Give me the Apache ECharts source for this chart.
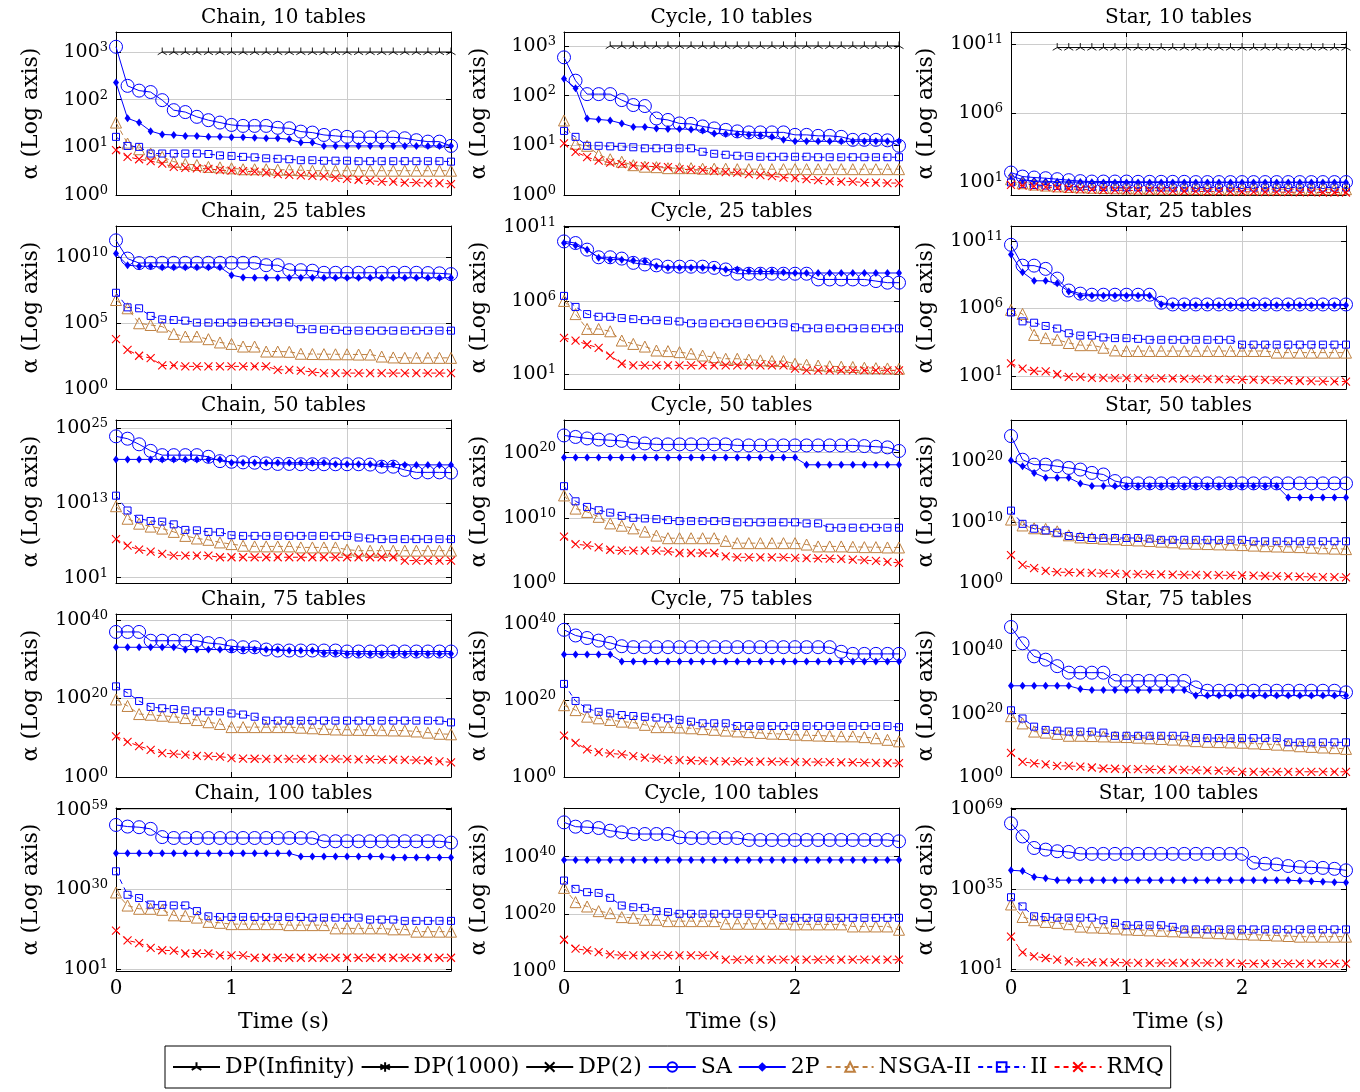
<!DOCTYPE html>
<html>
<head>
<meta charset="utf-8">
<title>alpha over time</title>
<style>
  * { margin: 0; padding: 0; }
  #chart { width: 1360px; height: 1092px; background: #fff; }
</style>
</head>
<body>
<div id="chart"></div>
<script src="https://cdn.jsdelivr.net/npm/echarts@6/dist/echarts.min.js"></script>
<script>
// time in seconds, one sample every 0.1 s
const times = [0, 0.1, 0.2, 0.3, 0.4, 0.5, 0.6, 0.7, 0.8, 0.9,
  1, 1.1, 1.2, 1.3, 1.4, 1.5, 1.6, 1.7, 1.8, 1.9,
  2, 2.1, 2.2, 2.3, 2.4, 2.5, 2.6, 2.7, 2.8, 2.9];

// all values are log10(alpha)
// ---- 10 tables
const chain10DP = [null, null, null, null, 3, 3, 3, 3, 3, 3,
  3, 3, 3, 3, 3, 3, 3, 3, 3, 3,
  3, 3, 3, 3, 3, 3, 3, 3, 3, 3];
const chain10SA = [3.11, 2.29, 2.19, 2.16, 1.99, 1.78, 1.74, 1.64, 1.57, 1.52,
  1.47, 1.45, 1.45, 1.45, 1.41, 1.40, 1.33, 1.31, 1.26, 1.24,
  1.22, 1.21, 1.21, 1.21, 1.21, 1.19, 1.15, 1.12, 1.12, 1.03];
const chain10P2 = [2.36, 1.61, 1.52, 1.34, 1.27, 1.26, 1.24, 1.24, 1.22, 1.22,
  1.21, 1.21, 1.20, 1.19, 1.19, 1.17, 1.10, 1.10, 1.03, 1.03,
  1.03, 1.03, 1.03, 1.03, 1.03, 1.03, 1.03, 1.03, 1.03, 1.03];
const chain10NSGA = [1.52, 1.08, 0.96, 0.87, 0.80, 0.70, 0.65, 0.63, 0.59, 0.58,
  0.56, 0.54, 0.54, 0.54, 0.53, 0.53, 0.52, 0.51, 0.51, 0.51,
  0.51, 0.51, 0.51, 0.51, 0.51, 0.51, 0.51, 0.51, 0.51, 0.51];
const chain10II = [1.22, 1.03, 1.01, 0.87, 0.87, 0.87, 0.87, 0.87, 0.86, 0.83,
  0.82, 0.80, 0.79, 0.77, 0.76, 0.75, 0.73, 0.73, 0.72, 0.72,
  0.72, 0.71, 0.71, 0.71, 0.71, 0.71, 0.71, 0.71, 0.71, 0.70];
const chain10RMQ = [0.94, 0.80, 0.75, 0.71, 0.66, 0.59, 0.57, 0.56, 0.55, 0.52,
  0.51, 0.50, 0.49, 0.47, 0.44, 0.42, 0.41, 0.40, 0.39, 0.36,
  0.34, 0.32, 0.30, 0.28, 0.28, 0.26, 0.26, 0.25, 0.25, 0.23];

const cycle10DP = [null, null, null, null, 3, 3, 3, 3, 3, 3,
  3, 3, 3, 3, 3, 3, 3, 3, 3, 3,
  3, 3, 3, 3, 3, 3, 3, 3, 3, 3];
const cycle10SA = [2.77, 2.30, 2.03, 2.03, 2.03, 1.91, 1.81, 1.79, 1.54, 1.51,
  1.44, 1.43, 1.38, 1.34, 1.31, 1.28, 1.26, 1.26, 1.26, 1.26,
  1.21, 1.21, 1.19, 1.19, 1.17, 1.11, 1.11, 1.11, 1.10, 0.99];
const cycle10P2 = [2.34, 2.15, 1.54, 1.52, 1.50, 1.44, 1.37, 1.37, 1.34, 1.33,
  1.33, 1.32, 1.30, 1.24, 1.23, 1.22, 1.21, 1.20, 1.17, 1.11,
  1.08, 1.08, 1.08, 1.08, 1.08, 1.08, 1.08, 1.08, 1.08, 1.08];
const cycle10NSGA = [1.50, 1.03, 0.99, 0.81, 0.72, 0.67, 0.60, 0.57, 0.56, 0.54,
  0.54, 0.54, 0.53, 0.53, 0.53, 0.52, 0.52, 0.52, 0.52, 0.52,
  0.52, 0.52, 0.52, 0.52, 0.52, 0.52, 0.52, 0.52, 0.52, 0.52];
const cycle10II = [1.29, 1.17, 0.99, 0.99, 0.98, 0.97, 0.96, 0.94, 0.94, 0.94,
  0.94, 0.94, 0.87, 0.83, 0.81, 0.79, 0.78, 0.77, 0.77, 0.77,
  0.77, 0.77, 0.76, 0.76, 0.76, 0.76, 0.76, 0.76, 0.76, 0.76];
const cycle10RMQ = [1.04, 0.87, 0.76, 0.69, 0.65, 0.62, 0.59, 0.58, 0.57, 0.56,
  0.52, 0.51, 0.50, 0.48, 0.46, 0.45, 0.42, 0.40, 0.38, 0.35,
  0.34, 0.32, 0.30, 0.28, 0.27, 0.27, 0.25, 0.25, 0.24, 0.24];

const star10DP = [null, null, null, null, 10.73, 10.73, 10.73, 10.73, 10.73, 10.73,
  10.73, 10.73, 10.73, 10.73, 10.73, 10.73, 10.73, 10.73, 10.73, 10.73,
  10.73, 10.73, 10.73, 10.73, 10.73, 10.73, 10.73, 10.73, 10.73, 10.73];
const star10SA = [1.72, 1.43, 1.36, 1.31, 1.24, 1.17, 1.10, 1.07, 1.07, 1.07,
  1.07, 1.05, 1.05, 1.05, 1.05, 1.05, 1.03, 1.03, 1.03, 1.03,
  1.03, 1.03, 1.03, 1.03, 1.03, 1.03, 1.03, 1.03, 1.03, 1.03];
const star10P2 = [1.48, 1.20, 1.12, 1.08, 1.05, 1.04, 1.03, 1.02, 1.01, 1.00,
  1.00, 1.00, 1.00, 1.00, 1.00, 1.00, 1.00, 1.00, 1.00, 1.00,
  1.00, 1.00, 1.00, 1.00, 1.00, 1.00, 1.00, 1.00, 1.00, 1.00];
const star10NSGA = [1.24, 0.95, 0.85, 0.78, 0.72, 0.68, 0.65, 0.62, 0.60, 0.58,
  0.57, 0.56, 0.55, 0.55, 0.54, 0.54, 0.53, 0.53, 0.53, 0.52,
  0.52, 0.52, 0.52, 0.52, 0.52, 0.52, 0.52, 0.52, 0.52, 0.52];
const star10II = [1.00, 0.90, 0.82, 0.78, 0.75, 0.72, 0.70, 0.68, 0.67, 0.66,
  0.65, 0.65, 0.64, 0.64, 0.64, 0.64, 0.64, 0.64, 0.64, 0.64,
  0.64, 0.64, 0.64, 0.64, 0.64, 0.64, 0.64, 0.64, 0.64, 0.64];
const star10RMQ = [0.83, 0.78, 0.72, 0.66, 0.60, 0.55, 0.50, 0.48, 0.46, 0.45,
  0.43, 0.42, 0.41, 0.40, 0.38, 0.37, 0.36, 0.35, 0.34, 0.33,
  0.33, 0.32, 0.31, 0.30, 0.30, 0.29, 0.29, 0.28, 0.28, 0.28];

// ---- 25 tables
const chain25SA = [11.31, 9.92, 9.58, 9.6, 9.6, 9.6, 9.6, 9.6, 9.6, 9.6,
  9.6, 9.6, 9.6, 9.42, 9.42, 9.04, 9.04, 9.0, 8.84, 8.84,
  8.84, 8.84, 8.84, 8.84, 8.84, 8.84, 8.84, 8.82, 8.8, 8.74];
const chain25P2 = [10.3, 9.42, 9.34, 9.34, 9.27, 9.27, 9.27, 9.27, 9.27, 9.27,
  8.66, 8.48, 8.46, 8.46, 8.46, 8.46, 8.46, 8.46, 8.46, 8.46,
  8.46, 8.46, 8.46, 8.46, 8.46, 8.46, 8.46, 8.46, 8.46, 8.46];
const chain25NSGA = [6.77, 6.14, 5.0, 4.87, 4.75, 4.19, 3.99, 3.99, 3.79, 3.54,
  3.43, 3.23, 3.23, 2.85, 2.85, 2.83, 2.68, 2.66, 2.65, 2.64,
  2.64, 2.62, 2.62, 2.47, 2.4, 2.37, 2.37, 2.37, 2.37, 2.37];
const chain25II = [7.32, 6.21, 6.14, 5.56, 5.30, 5.25, 5.2, 5.05, 5.05, 5.05,
  5.05, 5.05, 5.05, 5.05, 5.05, 5.05, 4.55, 4.55, 4.52, 4.5,
  4.44, 4.44, 4.44, 4.44, 4.44, 4.44, 4.44, 4.44, 4.44, 4.44];
const chain25RMQ = [3.79, 2.98, 2.53, 2.35, 1.79, 1.79, 1.72, 1.72, 1.72, 1.72,
  1.72, 1.72, 1.72, 1.72, 1.46, 1.46, 1.40, 1.29, 1.21, 1.21,
  1.21, 1.21, 1.21, 1.21, 1.21, 1.21, 1.21, 1.21, 1.21, 1.21];

const cycle25SA = [10.05, 9.94, 9.49, 8.97, 8.97, 8.88, 8.59, 8.48, 8.42, 8.33,
  8.33, 8.33, 8.33, 8.25, 8.14, 7.85, 7.85, 7.85, 7.85, 7.85,
  7.85, 7.85, 7.46, 7.46, 7.46, 7.46, 7.46, 7.35, 7.24, 7.24];
const cycle25P2 = [9.94, 9.78, 9.49, 8.93, 8.81, 8.81, 8.75, 8.70, 8.36, 8.25,
  8.25, 8.25, 8.25, 8.25, 8.14, 8.14, 8.03, 8.0, 8.0, 7.95,
  7.9, 7.9, 7.9, 7.9, 7.9, 7.9, 7.9, 7.9, 7.9, 7.9];
const cycle25NSGA = [6.0, 5.1, 4.09, 4.09, 3.93, 3.3, 3.07, 2.89, 2.62, 2.58,
  2.51, 2.4, 2.28, 2.17, 2.06, 2.06, 2.0, 1.95, 1.9, 1.9,
  1.72, 1.65, 1.6, 1.55, 1.52, 1.5, 1.45, 1.42, 1.4, 1.38];
const cycle25II = [6.34, 5.59, 5.1, 4.92, 4.92, 4.83, 4.76, 4.69, 4.69, 4.65,
  4.6, 4.47, 4.47, 4.47, 4.47, 4.47, 4.47, 4.47, 4.47, 4.47,
  4.2, 4.13, 4.13, 4.13, 4.13, 4.13, 4.13, 4.13, 4.13, 4.13];
const cycle25RMQ = [3.48, 3.3, 3.03, 2.8, 2.28, 1.72, 1.61, 1.61, 1.61, 1.61,
  1.61, 1.61, 1.61, 1.61, 1.61, 1.61, 1.61, 1.61, 1.61, 1.61,
  1.38, 1.27, 1.27, 1.27, 1.27, 1.27, 1.27, 1.27, 1.27, 1.27];

const star25SA = [10.71, 9.17, 9.17, 8.93, 8.21, 7.33, 7.1, 7.02, 7.02, 7.02,
  7.02, 7.02, 7.02, 6.43, 6.3, 6.3, 6.3, 6.3, 6.3, 6.3,
  6.3, 6.3, 6.3, 6.3, 6.3, 6.3, 6.3, 6.3, 6.3, 6.3];
const star25P2 = [10.0, 8.69, 8.05, 8.05, 7.86, 7.26, 6.95, 6.95, 6.95, 6.95,
  6.95, 6.95, 6.95, 6.31, 6.24, 6.24, 6.24, 6.24, 6.24, 6.24,
  6.24, 6.24, 6.24, 6.24, 6.24, 6.24, 6.24, 6.24, 6.24, 6.24];
const star25NSGA = [5.9, 5.6, 4.05, 3.81, 3.69, 3.45, 3.29, 3.29, 3.1, 2.9,
  2.86, 2.86, 2.86, 2.86, 2.86, 2.86, 2.86, 2.86, 2.86, 2.86,
  2.86, 2.86, 2.86, 2.74, 2.74, 2.74, 2.74, 2.74, 2.74, 2.74];
const star25II = [5.71, 5.05, 4.95, 4.71, 4.52, 4.17, 4.0, 4.0, 3.86, 3.81,
  3.81, 3.76, 3.69, 3.69, 3.69, 3.69, 3.69, 3.69, 3.69, 3.69,
  3.33, 3.33, 3.33, 3.33, 3.33, 3.33, 3.33, 3.33, 3.33, 3.33];
const star25RMQ = [1.95, 1.55, 1.38, 1.35, 1.14, 0.95, 0.95, 0.88, 0.87, 0.86,
  0.85, 0.85, 0.84, 0.84, 0.83, 0.82, 0.8, 0.8, 0.78, 0.76,
  0.75, 0.74, 0.72, 0.7, 0.68, 0.66, 0.64, 0.62, 0.61, 0.6];

// ---- 50 tables
const chain50SA = [23.68, 23.3, 22.4, 21.35, 20.66, 20.66, 20.66, 20.66, 20.4, 19.7,
  19.6, 19.5, 19.45, 19.34, 19.25, 19.25, 19.2, 19.2, 19.2, 19.2,
  19.2, 19.2, 19.15, 18.81, 18.81, 18.29, 17.9, 17.9, 17.9, 17.86];
const chain50P2 = [19.98, 19.98, 19.98, 19.98, 19.98, 19.98, 19.98, 19.98, 19.98, 19.98,
  19.45, 19.45, 19.45, 19.45, 19.45, 19.45, 19.45, 19.45, 19.45, 19.2,
  19.2, 19.2, 19.2, 19.2, 19.2, 19.1, 19.1, 19.1, 19.1, 19.1];
const chain50NSGA = [12.47, 10.46, 9.67, 9.2, 8.88, 8.35, 7.71, 7.29, 7.08, 6.66,
  6.39, 6.13, 6.02, 6.02, 6.02, 6.02, 5.86, 5.86, 5.86, 5.86,
  5.5, 5.34, 5.34, 5.34, 5.34, 5.34, 5.34, 5.34, 5.34, 5.34];
const chain50II = [14.16, 11.78, 10.46, 10.1, 10.0, 9.56, 8.67, 8.6, 8.35, 8.3,
  7.82, 7.71, 7.71, 7.71, 7.71, 7.71, 7.71, 7.71, 7.71, 7.71,
  7.71, 7.45, 7.3, 7.19, 7.19, 7.19, 7.19, 7.19, 7.19, 7.19];
const chain50RMQ = [7.19, 6.13, 5.5, 5.18, 4.81, 4.54, 4.54, 4.54, 4.54, 4.28,
  4.28, 4.28, 4.28, 4.28, 4.28, 4.28, 4.28, 4.28, 4.28, 4.28,
  4.28, 4.28, 4.28, 4.28, 4.28, 3.75, 3.75, 3.75, 3.75, 3.75];

const cycle50SA = [22.63, 22.4, 22.17, 22.0, 21.9, 21.8, 21.5, 21.4, 21.26, 21.26,
  21.26, 21.26, 21.26, 21.26, 21.26, 21.1, 21.1, 21.1, 21.1, 21.1,
  21.1, 21.1, 21.1, 21.1, 21.1, 21.1, 21.0, 20.9, 20.8, 20.25];
const cycle50P2 = [19.24, 19.24, 19.24, 19.24, 19.24, 19.24, 19.24, 19.24, 19.24, 19.24,
  19.24, 19.24, 19.24, 19.24, 19.24, 19.24, 19.24, 19.24, 19.24, 19.24,
  19.24, 18.13, 18.13, 18.13, 18.13, 18.13, 18.13, 18.13, 18.13, 18.13];
const cycle50NSGA = [13.43, 11.41, 10.9, 10.15, 9.14, 8.79, 8.38, 7.88, 7.27, 6.87,
  6.87, 6.87, 6.87, 6.87, 6.46, 6.11, 6.11, 6.11, 6.11, 6.11,
  6.11, 5.9, 5.61, 5.61, 5.61, 5.55, 5.5, 5.5, 5.45, 5.45];
const cycle50II = [14.85, 12.53, 11.67, 11.16, 10.8, 10.3, 10.0, 9.9, 9.8, 9.65,
  9.5, 9.5, 9.5, 9.5, 9.5, 9.3, 9.3, 9.3, 9.3, 9.3,
  9.3, 9.14, 9.14, 8.48, 8.48, 8.48, 8.48, 8.48, 8.48, 8.48];
const cycle50RMQ = [7.12, 5.96, 5.76, 5.45, 5.1, 4.95, 4.95, 4.95, 4.95, 4.85,
  4.6, 4.6, 4.6, 4.6, 4.1, 3.94, 3.94, 3.94, 3.94, 3.94,
  3.85, 3.8, 3.78, 3.74, 3.7, 3.6, 3.5, 3.4, 3.25, 3.08];

const star50SA = [24.16, 20.27, 19.46, 19.46, 19.19, 18.92, 18.65, 18.1, 17.84, 16.76,
  16.38, 16.38, 16.38, 16.38, 16.38, 16.38, 16.38, 16.38, 16.38, 16.38,
  16.38, 16.38, 16.38, 16.38, 16.38, 16.38, 16.38, 16.38, 16.38, 16.38];
const star50P2 = [20.16, 19.2, 18.1, 17.3, 17.3, 17.3, 16.38, 15.95, 15.95, 15.95,
  15.95, 15.95, 15.95, 15.95, 15.95, 15.95, 15.95, 15.95, 15.95, 15.95,
  15.95, 15.95, 15.95, 15.95, 14.05, 14.05, 14.05, 14.05, 14.05, 14.05];
const star50NSGA = [10.43, 9.46, 9.0, 8.9, 8.5, 7.84, 7.5, 7.4, 7.3, 7.2,
  7.08, 7.0, 6.9, 6.8, 6.7, 6.5, 6.45, 6.4, 6.35, 6.3,
  6.23, 6.15, 6.05, 6.0, 5.95, 5.9, 5.8, 5.7, 5.65, 5.57];
const star50II = [11.9, 9.73, 8.92, 8.65, 8.27, 7.73, 7.57, 7.4, 7.4, 7.4,
  7.4, 7.4, 7.3, 7.1, 7.1, 7.1, 7.1, 7.1, 7.1, 7.1,
  7.1, 6.86, 6.86, 6.86, 6.86, 6.86, 6.86, 6.86, 6.86, 6.86];
const star50RMQ = [4.59, 2.97, 2.43, 2.0, 1.78, 1.75, 1.7, 1.65, 1.6, 1.55,
  1.46, 1.45, 1.42, 1.4, 1.38, 1.35, 1.33, 1.3, 1.28, 1.26,
  1.24, 1.2, 1.15, 1.12, 1.08, 1.05, 1.0, 0.98, 0.95, 0.92];

// ---- 75 tables
const chain75SA = [36.93, 36.93, 36.93, 34.69, 34.69, 34.69, 34.69, 34.69, 34.1, 33.86,
  33.28, 33.03, 33.03, 32.45, 32.2, 32.2, 32.2, 32.2, 32.2, 32.2,
  31.95, 31.95, 31.95, 31.95, 31.95, 31.95, 31.95, 31.95, 31.95, 31.95];
const chain75P2 = [33.03, 33.03, 33.03, 33.03, 33.03, 33.03, 32.45, 32.45, 32.45, 32.45,
  32.45, 32.45, 32.45, 32.45, 32.45, 32.2, 32.2, 32.2, 31.6, 31.6,
  31.37, 31.37, 31.37, 31.37, 31.37, 31.37, 31.37, 31.37, 31.37, 31.37];
const chain75NSGA = [19.75, 18.09, 16.02, 15.85, 15.6, 15.35, 15.0, 14.5, 13.94, 13.5,
  12.7, 12.7, 12.7, 12.7, 12.7, 12.7, 12.55, 12.4, 12.2, 12.1,
  12.03, 12.0, 11.95, 11.9, 11.85, 11.8, 11.6, 11.3, 11.0, 10.87];
const chain75II = [23.07, 21.41, 19.34, 17.84, 17.5, 17.3, 17.0, 16.7, 16.7, 16.7,
  16.18, 15.9, 15.35, 14.36, 14.36, 14.36, 14.36, 14.36, 14.36, 14.36,
  14.36, 14.36, 14.36, 14.36, 14.36, 14.36, 14.36, 14.36, 14.36, 13.9];
const chain75RMQ = [10.37, 8.96, 7.88, 6.89, 6.06, 5.9, 5.7, 5.4, 5.3, 5.2,
  4.81, 4.7, 4.65, 4.6, 4.6, 4.6, 4.6, 4.6, 4.6, 4.6,
  4.55, 4.5, 4.5, 4.45, 4.4, 4.35, 4.3, 4.2, 4.0, 3.73];

const cycle75SA = [38.38, 36.9, 36.24, 35.56, 34.96, 34.1, 33.85, 33.85, 33.85, 33.85,
  33.85, 33.85, 33.85, 33.85, 33.85, 33.85, 33.85, 33.85, 33.85, 33.85,
  33.85, 33.85, 33.85, 33.85, 32.65, 32.1, 32.1, 32.1, 32.1, 32.1];
const cycle75P2 = [31.97, 31.97, 31.97, 31.97, 31.97, 30.1, 30.1, 30.1, 30.1, 30.1,
  30.1, 30.1, 30.1, 30.1, 30.1, 30.1, 30.1, 30.1, 30.1, 30.1,
  30.1, 30.1, 30.1, 30.1, 30.1, 30.1, 30.1, 30.1, 30.1, 30.1];
const cycle75NSGA = [18.72, 17.44, 15.73, 15.3, 14.87, 14.44, 14.2, 13.6, 13.0, 13.0,
  12.9, 12.7, 12.48, 12.3, 12.1, 11.88, 11.7, 11.5, 11.3, 11.2,
  11.03, 10.9, 10.8, 10.7, 10.6, 10.6, 10.4, 10.1, 9.7, 9.3];
const cycle75II = [24.27, 19.83, 17.86, 17.0, 16.6, 16.15, 15.9, 15.7, 15.5, 15.3,
  14.9, 14.44, 14.0, 14.0, 14.0, 13.3, 13.3, 13.3, 13.3, 13.3,
  13.3, 13.3, 13.3, 13.3, 13.3, 13.3, 13.3, 13.3, 13.3, 13.0];
const cycle75RMQ = [10.77, 8.9, 7.18, 6.5, 6.15, 5.9, 5.47, 5.04, 4.8, 4.44,
  4.4, 4.3, 4.2, 4.15, 4.1, 4.05, 4.0, 4.0, 4.0, 4.0,
  3.95, 3.9, 3.9, 3.85, 3.8, 3.8, 3.75, 3.7, 3.65, 3.6];

const star75SA = [47.3, 42.16, 38.04, 37.0, 34.95, 32.9, 32.9, 32.9, 32.9, 30.3,
  30.3, 30.3, 30.3, 30.3, 30.3, 30.3, 28.25, 27.2, 27.2, 27.2,
  27.2, 27.2, 27.2, 27.2, 27.2, 27.2, 27.2, 27.2, 27.2, 26.7];
const star75P2 = [28.76, 28.76, 28.76, 28.76, 28.76, 28.76, 27.73, 27.4, 27.4, 27.4,
  27.4, 27.4, 27.4, 27.4, 27.4, 27.4, 25.67, 25.67, 25.67, 25.67,
  25.67, 25.67, 25.67, 25.67, 25.67, 25.67, 25.67, 25.67, 25.67, 25.67];
const star75NSGA = [19.18, 16.9, 14.33, 14.0, 13.6, 13.0, 13.0, 12.9, 12.8, 12.7,
  12.6, 12.4, 12.2, 12.0, 11.8, 11.55, 11.3, 11.1, 11.0, 10.9,
  10.8, 10.6, 10.4, 10.2, 10.0, 9.7, 9.5, 9.3, 9.1, 8.87];
const star75II = [21.03, 18.45, 15.88, 14.85, 14.6, 14.33, 14.33, 14.33, 14.0, 13.0,
  13.0, 13.0, 13.0, 13.0, 13.0, 13.0, 12.27, 12.27, 12.27, 12.27,
  12.27, 12.27, 12.27, 12.27, 10.93, 10.93, 10.93, 10.93, 10.93, 10.93];
const star75RMQ = [7.63, 4.74, 4.33, 4.0, 3.5, 3.5, 3.3, 3.0, 2.68, 2.6,
  2.5, 2.45, 2.4, 2.35, 2.3, 2.27, 2.2, 2.1, 2.0, 1.9,
  1.65, 1.65, 1.65, 1.65, 1.65, 1.65, 1.65, 1.65, 1.65, 1.65];

// ---- 100 tables
const chain100SA = [53.42, 52.83, 52.6, 52.0, 49.0, 48.67, 48.67, 48.67, 48.67, 48.67,
  48.67, 48.67, 48.67, 48.67, 48.67, 48.67, 48.67, 48.67, 47.48, 47.48,
  47.48, 47.48, 47.48, 47.48, 47.48, 47.48, 47.48, 47.48, 47.48, 47.0];
const chain100P2 = [43.08, 43.08, 43.08, 43.08, 43.08, 43.08, 43.08, 43.08, 43.08, 43.08,
  43.08, 43.08, 43.08, 43.08, 43.08, 43.08, 41.9, 41.9, 41.9, 41.9,
  41.9, 41.9, 41.9, 41.9, 41.53, 41.53, 41.53, 41.53, 41.53, 41.53];
const chain100NSGA = [28.81, 24.05, 22.87, 22.87, 22.5, 20.49, 20.3, 19.66, 18.1, 17.75,
  17.28, 17.28, 17.28, 17.28, 17.28, 16.92, 16.92, 16.92, 16.92, 15.73,
  15.73, 15.73, 15.73, 15.73, 15.38, 15.38, 14.54, 14.54, 14.54, 14.54];
const chain100II = [36.54, 27.98, 26.79, 24.41, 24.3, 24.1, 24.1, 22.03, 20.13, 19.9,
  19.9, 19.9, 19.9, 19.9, 19.9, 19.9, 19.9, 19.66, 19.66, 19.66,
  19.66, 19.66, 18.94, 18.94, 18.94, 18.47, 18.47, 18.47, 18.47, 18.47];
const chain100RMQ = [14.9, 11.33, 10.38, 8.6, 7.76, 7.6, 6.58, 6.58, 6.58, 5.86,
  5.86, 5.86, 5.03, 5.03, 5.03, 5.03, 5.03, 5.03, 5.03, 5.03,
  5.03, 5.03, 5.03, 5.03, 5.03, 5.03, 5.03, 5.03, 5.03, 5.03];

const cycle100SA = [51.98, 50.47, 50.3, 50.0, 49.07, 48.49, 47.9, 47.9, 47.9, 47.9,
  46.74, 46.5, 46.5, 46.5, 46.5, 46.5, 45.81, 45.81, 45.81, 45.81,
  45.81, 45.81, 45.81, 45.81, 45.81, 45.81, 45.81, 45.81, 45.81, 45.35];
const cycle100P2 = [38.84, 38.84, 38.84, 38.84, 38.84, 38.84, 38.84, 38.84, 38.84, 38.84,
  38.84, 38.84, 38.84, 38.84, 38.84, 38.84, 38.84, 38.84, 38.84, 38.84,
  38.84, 38.84, 38.84, 38.84, 38.84, 38.84, 38.84, 38.84, 38.84, 38.84];
const cycle100NSGA = [29.07, 24.07, 22.56, 20.93, 20.23, 18.84, 18.6, 17.9, 17.9, 17.44,
  17.44, 17.44, 17.44, 17.44, 16.51, 16.51, 16.51, 16.51, 16.51, 16.51,
  16.3, 16.3, 16.3, 16.3, 16.3, 15.58, 15.58, 15.58, 15.58, 14.42];
const cycle100II = [31.63, 28.72, 27.56, 27.3, 25.58, 22.9, 22.3, 22.1, 20.93, 20.6,
  20.0, 20.0, 20.0, 20.0, 20.0, 20.0, 20.0, 20.0, 20.0, 18.6,
  18.6, 18.6, 18.6, 18.6, 18.6, 18.6, 18.6, 18.6, 18.6, 18.6];
const cycle100RMQ = [10.93, 7.79, 7.2, 6.63, 5.81, 5.47, 5.47, 5.47, 5.47, 5.47,
  5.47, 5.47, 5.47, 5.47, 3.95, 3.95, 3.95, 3.95, 3.95, 3.95,
  3.95, 3.95, 3.95, 3.95, 3.95, 3.95, 3.95, 3.95, 3.95, 3.95];

const star100SA = [62.97, 57.38, 52.48, 51.78, 51.08, 50.8, 49.96, 49.96, 49.96, 49.96,
  49.96, 49.96, 49.96, 49.96, 49.96, 49.96, 49.96, 49.96, 49.96, 49.96,
  49.96, 46.19, 45.77, 45.5, 44.79, 44.37, 44.2, 44.0, 43.6, 42.97];
const star100P2 = [42.97, 42.7, 40.17, 39.6, 38.78, 38.78, 38.78, 38.78, 38.78, 38.78,
  38.78, 38.78, 38.78, 38.78, 38.78, 38.78, 38.78, 38.78, 38.78, 38.78,
  38.78, 38.78, 38.78, 38.78, 38.78, 38.5, 38.3, 38.1, 37.9, 37.8];
const star100NSGA = [28.43, 23.11, 21.71, 21.0, 20.6, 20.03, 19.0, 18.64, 18.5, 18.2,
  17.8, 17.6, 17.4, 17.2, 17.0, 16.8, 16.6, 16.4, 16.2, 16.0,
  15.8, 15.6, 15.4, 15.2, 15.0, 14.72, 14.72, 14.72, 14.72, 14.72];
const star100II = [31.5, 27.59, 23.39, 23.11, 22.83, 22.83, 22.83, 22.83, 21.7, 20.6,
  19.6, 19.6, 19.6, 19.6, 18.9, 17.8, 17.8, 17.8, 17.8, 17.8,
  17.8, 17.8, 17.8, 17.8, 17.8, 17.8, 17.8, 17.8, 17.8, 17.8];
const star100RMQ = [14.72, 8.0, 6.33, 5.63, 4.93, 4.23, 3.81, 3.81, 3.81, 3.81,
  3.53, 3.53, 3.53, 3.53, 3.53, 3.53, 3.53, 3.53, 3.53, 3.53,
  3.25, 3.25, 3.25, 3.25, 3.25, 3.25, 3.25, 3.25, 3.25, 3.25];

const legendNames = ['DP(Infinity)', 'DP(1000)', 'DP(2)', 'SA', '2P', 'NSGA-II', 'II', 'RMQ'];

// panels, row by row; min/max/ticks are exponents on the log axis
const plots = [
  { title: 'Chain, 10 tables', min: 0, max: 3.42, ticks: [0, 1, 2, 3], dp: chain10DP, sa: chain10SA, p2: chain10P2, nsga: chain10NSGA, ii: chain10II, rmq: chain10RMQ },
  { title: 'Cycle, 10 tables', min: 0, max: 3.28, ticks: [0, 1, 2, 3], dp: cycle10DP, sa: cycle10SA, p2: cycle10P2, nsga: cycle10NSGA, ii: cycle10II, rmq: cycle10RMQ },
  { title: 'Star, 10 tables', min: 0.1, max: 11.85, ticks: [1, 6, 11], dp: star10DP, sa: star10SA, p2: star10P2, nsga: star10NSGA, ii: star10II, rmq: star10RMQ },
  { title: 'Chain, 25 tables', min: 0, max: 12.4, ticks: [0, 5, 10], sa: chain25SA, p2: chain25P2, nsga: chain25NSGA, ii: chain25II, rmq: chain25RMQ },
  { title: 'Cycle, 25 tables', min: 0, max: 11.1, ticks: [1, 6, 11], sa: cycle25SA, p2: cycle25P2, nsga: cycle25NSGA, ii: cycle25II, rmq: cycle25RMQ },
  { title: 'Star, 25 tables', min: 0.05, max: 12.1, ticks: [1, 6, 11], sa: star25SA, p2: star25P2, nsga: star25NSGA, ii: star25II, rmq: star25RMQ },
  { title: 'Chain, 50 tables', min: 0.15, max: 26.3, ticks: [1, 13, 25], sa: chain50SA, p2: chain50P2, nsga: chain50NSGA, ii: chain50II, rmq: chain50RMQ },
  { title: 'Cycle, 50 tables', min: 0, max: 25, ticks: [0, 10, 20], sa: cycle50SA, p2: cycle50P2, nsga: cycle50NSGA, ii: cycle50II, rmq: cycle50RMQ },
  { title: 'Star, 50 tables', min: 0, max: 26.8, ticks: [0, 10, 20], sa: star50SA, p2: star50P2, nsga: star50NSGA, ii: star50II, rmq: star50RMQ },
  { title: 'Chain, 75 tables', min: 0, max: 41.5, ticks: [0, 20, 40], sa: chain75SA, p2: chain75P2, nsga: chain75NSGA, ii: chain75II, rmq: chain75RMQ },
  { title: 'Cycle, 75 tables', min: 0, max: 42.5, ticks: [0, 20, 40], sa: cycle75SA, p2: cycle75P2, nsga: cycle75NSGA, ii: cycle75II, rmq: cycle75RMQ },
  { title: 'Star, 75 tables', min: 0, max: 51.4, ticks: [0, 20, 40], sa: star75SA, p2: star75P2, nsga: star75NSGA, ii: star75II, rmq: star75RMQ },
  { title: 'Chain, 100 tables', min: 0.2, max: 59.6, ticks: [1, 30, 59], sa: chain100SA, p2: chain100P2, nsga: chain100NSGA, ii: chain100II, rmq: chain100RMQ },
  { title: 'Cycle, 100 tables', min: 0, max: 57, ticks: [0, 20, 40], sa: cycle100SA, p2: cycle100P2, nsga: cycle100NSGA, ii: cycle100II, rmq: cycle100RMQ },
  { title: 'Star, 100 tables', min: 0.1, max: 69.5, ticks: [1, 35, 69], sa: star100SA, p2: star100P2, nsga: star100NSGA, ii: star100II, rmq: star100RMQ }
];

const FONT = '"DejaVu Serif", serif';
const colLeft = [116, 564, 1011];
const rowTop = [32, 226, 420, 614, 808];
const plotW = 335, plotH = 163;

const triPath = 'path://M5,0L5,5M5,5L0,8M5,5L10,8M5,10L5,10';
const starPath = 'path://M5,0L5,10M0.7,2.5L9.3,7.5M0.7,7.5L9.3,2.5';
const crossPath = 'path://M0,0L10,10M0,10L10,0';

const looks = {
  'DP(Infinity)': { symbol: triPath, size: [9, 9], color: '#000', fill: '#000', bw: 0.9, dash: 'solid' },
  'DP(1000)': { symbol: starPath, size: 9, color: '#000', fill: '#000', bw: 0.9, dash: 'solid' },
  'DP(2)': { symbol: crossPath, size: 7, color: '#000', fill: '#000', bw: 0.9, dash: 'solid' },
  'SA': { symbol: 'circle', size: 13, color: '#0000ff', fill: 'rgba(0,0,0,0)', bw: 1, dash: 'solid' },
  '2P': { symbol: 'diamond', size: [6, 8], color: '#0000ff', fill: '#0000ff', bw: 0, dash: 'solid' },
  'NSGA-II': { symbol: 'triangle', size: 11, color: '#bf8040', fill: 'rgba(0,0,0,0)', bw: 1, dash: [5, 4] },
  'II': { symbol: 'rect', size: 7, color: '#0000ff', fill: 'rgba(0,0,0,0)', bw: 1, dash: [5, 4] },
  'RMQ': { symbol: crossPath, size: 8, color: '#ff0000', fill: '#ff0000', bw: 1.1, dash: [5, 4] }
};

function makeSeries(name, gi, values) {
  const lk = looks[name];
  const data = values ? values.map((v, k) => [times[k], v]).filter(d => d[1] !== null) : [];
  return {
    type: 'line', name, xAxisIndex: gi * 2, yAxisIndex: gi * 2, data,
    symbol: lk.symbol, symbolSize: lk.size, showAllSymbol: true, clip: false,
    lineStyle: { color: lk.color, width: 1, type: lk.dash },
    itemStyle: { color: lk.fill, borderColor: lk.color, borderWidth: lk.bw },
    emphasis: { disabled: true }, animation: false
  };
}

const grids = [], xAxes = [], yAxes = [], series = [], graphics = [];
plots.forEach((p, i) => {
  const r = Math.floor(i / 3), c = i % 3;
  const bottomRow = r === 4;
  grids.push({ left: colLeft[c], top: rowTop[r], width: plotW, height: plotH });
  const xBase = { gridIndex: i, type: 'value', min: 0, max: 2.9 };
  xAxes.push(Object.assign({}, xBase, {
    position: 'bottom',
    axisLine: { show: true, onZero: false, lineStyle: { color: '#000', width: 1 } },
    axisTick: { show: true, inside: true, length: 5, customValues: [0, 1, 2], lineStyle: { color: '#000' } },
    axisLabel: { show: bottomRow, customValues: [0, 1, 2], margin: 8, color: '#000', fontFamily: FONT, fontSize: 20 },
    splitLine: { show: true, lineStyle: { color: '#cccccc', width: 1 } },
    name: bottomRow ? 'Time (s)' : '', nameLocation: 'middle', nameGap: 40,
    nameTextStyle: { color: '#000', fontFamily: FONT, fontSize: 22 }
  }));
  xAxes.push(Object.assign({}, xBase, {
    position: 'top',
    axisLine: { show: true, onZero: false, lineStyle: { color: '#000', width: 1 } },
    axisTick: { show: true, inside: true, length: 5, customValues: [0, 1, 2], lineStyle: { color: '#000' } },
    axisLabel: { show: false }, splitLine: { show: false }
  }));
  const yBase = { gridIndex: i, type: 'value', min: p.min, max: p.max };
  yAxes.push(Object.assign({}, yBase, {
    position: 'left',
    axisLine: { show: true, onZero: false, lineStyle: { color: '#000', width: 1 } },
    axisTick: { show: true, inside: true, length: 5, customValues: p.ticks, lineStyle: { color: '#000' } },
    axisLabel: {
      customValues: p.ticks, margin: 8, color: '#000', fontFamily: FONT, fontSize: 19,
      formatter: v => '100{s|' + v + '}',
      rich: { s: { fontSize: 13, fontFamily: FONT, color: '#000', padding: [0, 0, 9, 0] } }
    },
    splitLine: { show: true, lineStyle: { color: '#cccccc', width: 1 } },
    name: 'α (Log axis)', nameLocation: 'middle', nameGap: 74,
    nameTextStyle: { color: '#000', fontFamily: FONT, fontSize: 22 }
  }));
  yAxes.push(Object.assign({}, yBase, {
    position: 'right',
    axisLine: { show: true, onZero: false, lineStyle: { color: '#000', width: 1 } },
    axisTick: { show: true, inside: true, length: 5, customValues: p.ticks, lineStyle: { color: '#000' } },
    axisLabel: { show: false }, splitLine: { show: false }
  }));

  if (p.dp) series.push(makeSeries('DP(Infinity)', i, p.dp));
  if (i === 0) {
    series.push(makeSeries('DP(1000)', i, null));
    series.push(makeSeries('DP(2)', i, null));
  }
  series.push(makeSeries('SA', i, p.sa));
  series.push(makeSeries('2P', i, p.p2));
  series.push(makeSeries('NSGA-II', i, p.nsga));
  series.push(makeSeries('II', i, p.ii));
  series.push(makeSeries('RMQ', i, p.rmq));

  graphics.push({
    type: 'text', x: colLeft[c] + plotW / 2, y: rowTop[r] - 14,
    style: { text: p.title, fontFamily: FONT, fontSize: 20, fill: '#000', align: 'center', verticalAlign: 'middle' }
  });
});

const chart = echarts.init(document.getElementById('chart'), null, { renderer: 'canvas' });
chart.setOption({
  animation: false,
  backgroundColor: '#fff',
  grid: grids,
  xAxis: xAxes,
  yAxis: yAxes,
  series: series,
  graphic: graphics,
  legend: {
    data: legendNames, left: 165, top: 1046, orient: 'horizontal',
    itemWidth: 47, itemHeight: 12, itemGap: 6, padding: [10, 7],
    borderColor: '#000', borderWidth: 1, selectedMode: false,
    textStyle: { color: '#000', fontFamily: FONT, fontSize: 22 }
  }
});
</script>
</body>
</html>
